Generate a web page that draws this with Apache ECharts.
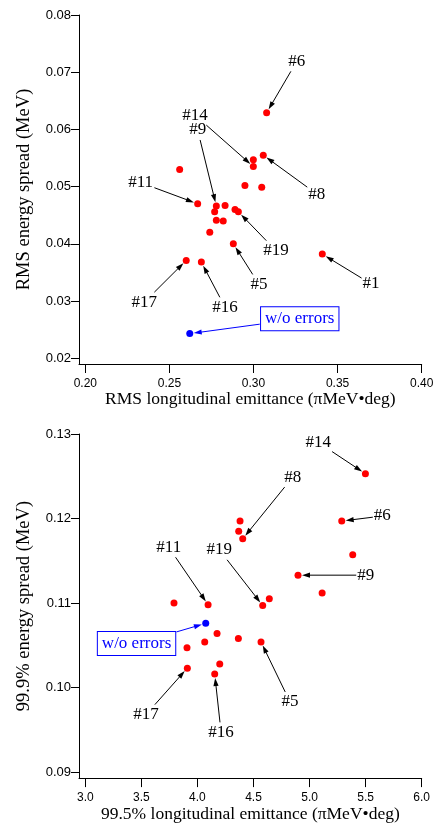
<!DOCTYPE html>
<html>
<head>
<meta charset="utf-8">
<script src="https://cdn.jsdelivr.net/npm/echarts@6/dist/echarts.min.js"></script>
<style>
  html, body { margin: 0; padding: 0; background: #fff; }
  #chart { width: 437px; height: 824px; }
</style>
</head>
<body>
<div id="chart"></div>
<script>
// top panel: RMS values, one entry per error case
const rmsEmit = [0.3078, 0.2999, 0.2999, 0.3058, 0.2561, 0.2949, 0.3049, 0.2668, 0.2779, 0.2831,
                 0.2769, 0.2890, 0.2910, 0.2779, 0.2820, 0.2740, 0.2880, 0.3409, 0.2600, 0.2690];
const rmsSpread = [0.0629, 0.0547, 0.0535, 0.0555, 0.0530, 0.0502, 0.0499, 0.0470, 0.0466, 0.0467,
                   0.0456, 0.0460, 0.0456, 0.0441, 0.0440, 0.0420, 0.0400, 0.0382, 0.0371, 0.0368];
const rmsNoErr = [0.2621, 0.0243];

// bottom panel: 99.5% emittance / 99.9% energy spread
const fullEmit = [5.498, 5.287, 4.380, 4.368, 4.404, 5.385, 4.897, 5.112, 3.791, 4.095,
                  4.582, 4.641, 4.175, 4.365, 4.065, 4.567, 3.907, 3.910, 4.199, 4.154];
const fullSpread = [0.1253, 0.1197, 0.1197, 0.1185, 0.1176, 0.1157, 0.1133, 0.1112, 0.1100, 0.1098,
                    0.1097, 0.1105, 0.1064, 0.1058, 0.1054, 0.1054, 0.1047, 0.1023, 0.1028, 0.1016];
const fullNoErr = [4.074, 0.1076];

// tick labels
const rmsEmitTicks = [0.20, 0.25, 0.30, 0.35, 0.40];
const rmsSpreadTicks = [0.02, 0.03, 0.04, 0.05, 0.06, 0.07, 0.08];
const fullEmitTicks = [3.0, 3.5, 4.0, 4.5, 5.0, 5.5, 6.0];
const fullSpreadTicks = [0.09, 0.10, 0.11, 0.12, 0.13];

// case labels: [text, index of point, label x, label y] (data units)
const rmsNotes = [
  ['#6', 0, 0.3257, 0.0719], ['#14', 2, 0.2652, 0.0625], ['#9', 8, 0.2668, 0.0599],
  ['#11', 7, 0.2329, 0.0507], ['#8', 3, 0.3376, 0.0487], ['#19', 12, 0.3134, 0.0388],
  ['#5', 16, 0.3033, 0.0329], ['#1', 17, 0.3699, 0.0330], ['#17', 18, 0.2351, 0.0298],
  ['#16', 19, 0.2831, 0.0289]
];
const rmsNoErrBox = [0.3275, 0.0269];
const fullNotes = [
  ['#14', 0, 5.078, 0.1290], ['#8', 4, 4.850, 0.1249], ['#6', 1, 5.649, 0.1203],
  ['#9', 6, 5.501, 0.1133], ['#11', 9, 3.744, 0.1166], ['#19', 10, 4.195, 0.1163],
  ['#17', 17, 3.541, 0.0968], ['#16', 19, 4.211, 0.0947], ['#5', 15, 4.826, 0.0983]
];
const fullNoErrBox = [3.457, 0.1052];

const serif = '"Liberation Serif", "Times New Roman", serif';
const sans = '"Liberation Sans", Arial, sans-serif';
const DOT = 7;

function xAxisOf(gi, min, max, ticks, digits, name) {
  return {
    gridIndex: gi, type: 'value', min: min, max: max,
    name: name, nameLocation: 'middle', nameGap: 22,
    nameTextStyle: { fontFamily: serif, fontSize: 17.5, color: '#000' },
    axisLine: { onZero: false, lineStyle: { color: '#000', width: 1 } },
    axisTick: { length: 9, customValues: ticks, lineStyle: { color: '#000' } },
    axisLabel: { customValues: ticks, margin: 14, formatter: v => v.toFixed(digits),
                 fontFamily: sans, fontSize: 12, color: '#000' },
    splitLine: { show: false }
  };
}

function yAxisOf(gi, min, max, ticks, name) {
  return {
    gridIndex: gi, type: 'value', min: min, max: max,
    name: name, nameLocation: 'middle', nameGap: 45, nameRotate: 90,
    nameTextStyle: { fontFamily: serif, fontSize: 18.5, color: '#000' },
    axisLine: { onZero: false, lineStyle: { color: '#000', width: 1 } },
    axisTick: { length: 8, customValues: ticks, lineStyle: { color: '#000' } },
    axisLabel: { customValues: ticks, margin: 8, formatter: v => v.toFixed(2),
                 fontFamily: sans, fontSize: 13, color: '#000' },
    splitLine: { show: false }
  };
}

function dots(gi, data, color) {
  return {
    type: 'scatter', xAxisIndex: gi, yAxisIndex: gi, data: data,
    symbol: 'circle', symbolSize: DOT, itemStyle: { color: color, opacity: 1 },
    emphasis: { disabled: true }, z: 5
  };
}

const chart = echarts.init(document.getElementById('chart'));
chart.setOption({
  animation: false,
  grid: [
    { left: 79, top: 15, width: 342.7, height: 349 },
    { left: 79, top: 434, width: 342.7, height: 349.3 }
  ],
  xAxis: [
    xAxisOf(0, 0.19625, 0.40, rmsEmitTicks, 2, 'RMS longitudinal emittance (\u03c0MeV\u2022deg)'),
    xAxisOf(1, 2.9438, 6.0, fullEmitTicks, 1, '99.5% longitudinal emittance (\u03c0MeV\u2022deg)')
  ],
  yAxis: [
    yAxisOf(0, 0.01899, 0.08, rmsSpreadTicks, 'RMS energy spread (MeV)'),
    yAxisOf(1, 0.08929, 0.13, fullSpreadTicks, '99.9% energy spread (MeV)')
  ],
  series: [
    dots(0, rmsEmit.map((x, i) => [x, rmsSpread[i]]), '#ff0000'),
    dots(0, [rmsNoErr], '#0000ff'),
    dots(1, fullEmit.map((x, i) => [x, fullSpread[i]]), '#ff0000'),
    dots(1, [fullNoErr], '#0000ff')
  ]
});

// arrows + labels, placed through the grid's own coordinate conversion
function toPx(gi, p) { return chart.convertToPixel({ gridIndex: gi }, p); }

function edgePoint(c, hw, hh, to) {
  const dx = to[0] - c[0], dy = to[1] - c[1];
  const t = Math.min(hw / Math.max(Math.abs(dx), 1e-6), hh / Math.max(Math.abs(dy), 1e-6));
  return [c[0] + dx * t, c[1] + dy * t];
}

function arrow(from, to, color, out) {
  const dx = to[0] - from[0], dy = to[1] - from[1];
  const len = Math.hypot(dx, dy);
  const ux = dx / len, uy = dy / len;
  const r = DOT / 2 + 0.5;
  const tip = [to[0] - ux * r, to[1] - uy * r];
  const hl = 8, hw = 2.6;
  const base = [tip[0] - ux * hl, tip[1] - uy * hl];
  out.push({
    type: 'line', silent: true, z: 10,
    shape: { x1: from[0], y1: from[1], x2: base[0] + ux * 2, y2: base[1] + uy * 2 },
    style: { stroke: color, lineWidth: 1 }
  });
  out.push({
    type: 'polygon', silent: true, z: 10,
    shape: { points: [tip, [base[0] - uy * hw, base[1] + ux * hw], [base[0] + uy * hw, base[1] - ux * hw]] },
    style: { fill: color }
  });
}

const els = [];
function annotate(gi, xs, ys, notes, ref, box) {
  for (const n of notes) {
    const c = toPx(gi, [n[2], n[3]]);
    const p = toPx(gi, [xs[n[1]], ys[n[1]]]);
    const w = n[0].length * 0.5 * 17;
    arrow(edgePoint(c, w / 2 + 1, 10, p), p, '#000', els);
    els.push({
      type: 'text', x: c[0], y: c[1], silent: true, z: 11,
      style: { text: n[0], font: '17px ' + serif, fill: '#000',
               align: 'center', verticalAlign: 'middle', textAlign: 'center', textVerticalAlign: 'middle' }
    });
  }
  const bc = toPx(gi, box);
  const rp = toPx(gi, ref);
  arrow(edgePoint(bc, 40, 13, rp), rp, '#0000ff', els);
  els.push({
    type: 'text', x: bc[0], y: bc[1], silent: true, z: 11,
    style: { text: 'w/o errors', font: '17px ' + serif, fill: '#0000ff',
             align: 'center', verticalAlign: 'middle', textAlign: 'center', textVerticalAlign: 'middle',
             backgroundColor: '#fff', borderColor: '#0000ff', borderWidth: 1, padding: [3, 4] }
  });
}
annotate(0, rmsEmit, rmsSpread, rmsNotes, rmsNoErr, rmsNoErrBox);
annotate(1, fullEmit, fullSpread, fullNotes, fullNoErr, fullNoErrBox);
chart.setOption({ graphic: { elements: els } });
</script>
</body>
</html>
